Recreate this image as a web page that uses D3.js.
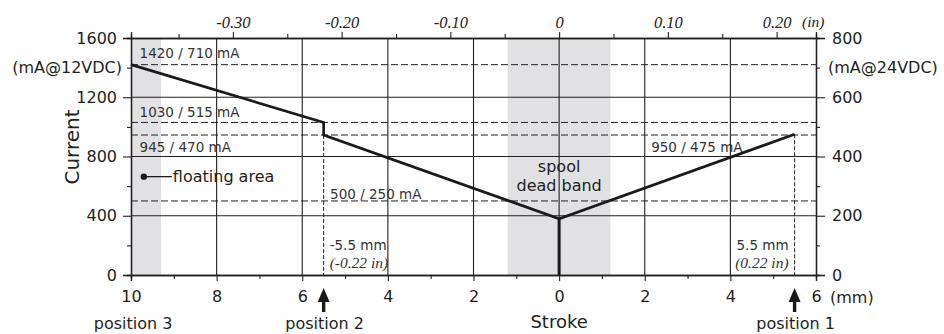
<!DOCTYPE html>
<html><head><meta charset="utf-8">
<script src="https://cdn.jsdelivr.net/npm/d3@7"></script>
<style>
html,body{margin:0;padding:0;background:#fff;}
svg{display:block;}
text{font-family:"DejaVu Sans",Verdana,sans-serif;fill:#231f20;}
.serif{font-family:"Liberation Serif","Times New Roman",serif;font-style:italic;}
</style></head>
<body>
<svg id="chart" width="944" height="334"></svg>
<script>
// ---- data ----
const strokeTicks = [-10, -8, -6, -4, -2, 0, 2, 4, 6];
const strokeMinorTicks = [-9, -7, -5, -3, -1, 1, 3, 5];
const strokeGrid = [-8, -6, -4, -2, 0, 2, 4];
const inchTicks = [-0.30, -0.20, -0.10, 0, 0.10, 0.20];
const inchTickLabels = ["-0.30", "-0.20", "-0.10", "0", "0.10", "0.20"];
const inchMinorTicks = [-0.35, -0.25, -0.15, -0.05, 0.05, 0.15];
const currentTicks = [0, 400, 800, 1200, 1600];
const currentMinorTicks = [200, 600, 1000, 1400];
const currentGrid = [400, 800, 1200];
const current24Ticks = [0, 200, 400, 600, 800];
const current24MinorTicks = [100, 300, 500, 700];

const curveStroke = [-10, -5.5, -5.5, 0, 5.5];
const curveCurrent = [1420, 1030, 945, 380, 950];
const stemStroke = [0, 0];
const stemCurrent = [380, 0];

const bandStart = [-10, -1.2];
const bandEnd = [-9.3, 1.2];

const refLevels = [1420, 1030, 945, 500];
const refLabels = ["1420 / 710 mA", "1030 / 515 mA", "945 / 470 mA", "500 / 250 mA"];
const refLabelStroke = [-9.8, -9.8, -9.8, -5.35];
const refLabelDy = [-11, -10, 12, -7];

const posStroke = [-5.5, 5.5];
const posLevel = [945, 950];
const posMm = ["-5.5 mm", "5.5 mm"];
const posIn = ["(-0.22 in)", "(0.22 in)"];
const posNames = ["position 2", "position 1"];

// ---- layout ----
const svg = d3.select("#chart");
const x = d3.scaleLinear().domain([-10, 6]).range([131, 816]);
const xIn = d3.scaleLinear().domain([-10 / 25.4, 6 / 25.4]).range([131, 816]);
const y = d3.scaleLinear().domain([0, 1600]).range([275, 38]);
const y24 = d3.scaleLinear().domain([0, 800]).range([275, 38]);
const ink = "#231f20";

// bands
svg.selectAll("rect.band").data(bandStart).join("rect")
  .attr("x", (d) => x(d)).attr("y", y(1600))
  .attr("width", (d, i) => x(bandEnd[i]) - x(d)).attr("height", y(0) - y(1600))
  .attr("fill", "#e1e1e3");

// grid
svg.selectAll("line.vg").data(strokeGrid).join("line")
  .attr("x1", d => x(d)).attr("x2", d => x(d)).attr("y1", y(0)).attr("y2", y(1600))
  .attr("stroke", ink).attr("stroke-width", 1.1);
svg.selectAll("line.hg").data(currentGrid).join("line")
  .attr("x1", x(-10)).attr("x2", x(6)).attr("y1", d => y(d)).attr("y2", d => y(d))
  .attr("stroke", ink).attr("stroke-width", 1.1);

// reference dashed lines
svg.selectAll("line.ref").data(refLevels).join("line")
  .attr("x1", x(-10)).attr("x2", x(6)).attr("y1", d => y(d)).attr("y2", d => y(d))
  .attr("stroke", ink).attr("stroke-width", 1).attr("stroke-dasharray", "7,3");
svg.selectAll("text.ref").data(refLabels).join("text")
  .attr("x", (d, i) => x(refLabelStroke[i])).attr("y", (d, i) => y(refLevels[i]) + refLabelDy[i])
  .attr("dy", "0.35em").attr("font-size", 13.5).style("fill", "#333").text(d => d);

// vertical dashed position lines
svg.selectAll("line.pos").data(posStroke).join("line")
  .attr("x1", d => x(d)).attr("x2", d => x(d)).attr("y1", (d, i) => y(posLevel[i])).attr("y2", y(0))
  .attr("stroke", ink).attr("stroke-width", 1).attr("stroke-dasharray", "4,2");

// axes
const axisBottomMain = d3.axisBottom(x).tickValues(strokeTicks).tickSize(6).tickPadding(10)
  .tickFormat(d => String(Math.abs(d)));
svg.append("g").attr("transform", `translate(0,${y(0)})`).call(axisBottomMain);
svg.append("g").attr("transform", `translate(0,${y(0)})`)
  .call(d3.axisBottom(x).tickValues(strokeMinorTicks).tickSize(4).tickFormat(""));
const axisTopMain = d3.axisTop(xIn).tickValues(inchTicks).tickSize(6).tickPadding(4)
  .tickFormat((d, i) => inchTickLabels[i]);
const gTop = svg.append("g").attr("transform", `translate(0,${y(1600)})`).call(axisTopMain);
svg.append("g").attr("transform", `translate(0,${y(1600)})`)
  .call(d3.axisTop(xIn).tickValues(inchMinorTicks).tickSize(4).tickFormat(""));
const axisLeftMain = d3.axisLeft(y).tickValues(currentTicks).tickSize(8).tickPadding(6)
  .tickFormat(d => String(d));
svg.append("g").attr("transform", `translate(${x(-10)},0)`).call(axisLeftMain);
svg.append("g").attr("transform", `translate(${x(-10)},0)`)
  .call(d3.axisLeft(y).tickValues(currentMinorTicks).tickSize(4).tickFormat(""));
const axisRightMain = d3.axisRight(y24).tickValues(current24Ticks).tickSize(9).tickPadding(7)
  .tickFormat(d => String(d));
svg.append("g").attr("transform", `translate(${x(6)},0)`).call(axisRightMain);
svg.append("g").attr("transform", `translate(${x(6)},0)`)
  .call(d3.axisRight(y24).tickValues(current24MinorTicks).tickSize(4).tickFormat(""));

svg.selectAll(".domain").attr("stroke", ink).attr("stroke-width", 1.3);
svg.selectAll(".tick line").attr("stroke", ink).attr("stroke-width", 1.1);
svg.selectAll(".tick text").style("fill", ink).attr("font-family", "DejaVu Sans, sans-serif").attr("font-size", 16);
gTop.selectAll(".tick text").attr("class", "serif").attr("font-family", "Liberation Serif, serif")
  .attr("font-style", "italic").attr("font-size", 16.5).style("fill", "#222");

// unit labels
svg.append("text").attr("x", x(6) - 14).attr("y", 22).attr("dy", "0.35em").attr("class", "serif")
  .attr("font-size", 15.5).style("fill", "#222").text("(in)");
svg.append("text").attr("x", x(6) + 14).attr("y", 297).attr("dy", "0.35em").attr("font-size", 16).text("(mm)");
svg.append("text").attr("x", x(-10) - 9).attr("y", y(1400)).attr("dy", "0.35em").attr("text-anchor", "end")
  .attr("font-size", 16).text("(mA@12VDC)");
svg.append("text").attr("x", x(6) + 12).attr("y", y24(700)).attr("dy", "0.35em")
  .attr("font-size", 16).text("(mA@24VDC)");
svg.append("text").attr("transform", `translate(72,147) rotate(-90)`).attr("text-anchor", "middle")
  .attr("dy", "0.35em").attr("font-size", 20).text("Current");
svg.append("text").attr("x", x(0)).attr("y", 322).attr("dy", "0.35em").attr("text-anchor", "middle")
  .attr("font-size", 18).text("Stroke");
svg.append("text").attr("x", x(-9.95)).attr("y", 323).attr("dy", "0.35em").attr("text-anchor", "middle")
  .attr("font-size", 16).text("position 3");

// main curve
const line = d3.line().x(d => x(d[0])).y(d => y(d[1]));
svg.append("path").datum(curveStroke.map((d, i) => [d, curveCurrent[i]]))
  .attr("d", line).attr("fill", "none").attr("stroke", "#1a1a1a").attr("stroke-width", 2.7)
  .attr("stroke-linejoin", "miter");
svg.append("path").datum(stemStroke.map((d, i) => [d, stemCurrent[i]]))
  .attr("d", line).attr("fill", "none").attr("stroke", "#1a1a1a").attr("stroke-width", 3);

// position annotations
posStroke.forEach((s, i) => {
  const px = x(s);
  const leftSide = s < 0;
  svg.append("text").attr("x", leftSide ? px + 6 : px - 6).attr("y", 245).attr("dy", "0.35em")
    .attr("text-anchor", leftSide ? "start" : "end").attr("font-size", 13.5).style("fill", "#333").text(posMm[i]);
  svg.append("text").attr("x", leftSide ? px + 6 : px - 6).attr("y", 263).attr("dy", "0.35em")
    .attr("text-anchor", leftSide ? "start" : "end").attr("class", "serif").attr("font-size", 15.5)
    .style("fill", "#333").text(posIn[i]);
  svg.append("line").attr("x1", px).attr("x2", px).attr("y1", 298).attr("y2", 312)
    .attr("stroke", "#1a1a1a").attr("stroke-width", 3.4);
  svg.append("path").attr("d", `M${px},288 L${px - 6},302 L${px + 6},302 Z`).attr("fill", "#1a1a1a");
  svg.append("text").attr("x", px + 1).attr("y", 323).attr("dy", "0.35em").attr("text-anchor", "middle")
    .attr("font-size", 16).text(posNames[i]);
});
svg.append("text").attr("x", x(2.15)).attr("y", y(945) + 12).attr("dy", "0.35em")
  .attr("font-size", 13.5).style("fill", "#333").text("950 / 475 mA");

// floating area
const fx = x(-9.7), fy = y(664);
svg.append("circle").attr("cx", fx).attr("cy", fy).attr("r", 3.2).attr("fill", "#1a1a1a");
svg.append("line").attr("x1", fx).attr("x2", fx + 28).attr("y1", fy).attr("y2", fy)
  .attr("stroke", "#1a1a1a").attr("stroke-width", 1.3);
svg.append("text").attr("x", fx + 29).attr("y", fy).attr("dy", "0.35em").attr("font-size", 16).text("floating area");

// dead band label
svg.append("text").attr("x", x(0)).attr("y", 166).attr("dy", "0.35em").attr("text-anchor", "middle")
  .attr("font-size", 16).text("spool");
svg.append("text").attr("x", x(0)).attr("y", 185).attr("dy", "0.35em").attr("text-anchor", "middle")
  .attr("font-size", 16).text("dead band");
</script>
</body></html>
